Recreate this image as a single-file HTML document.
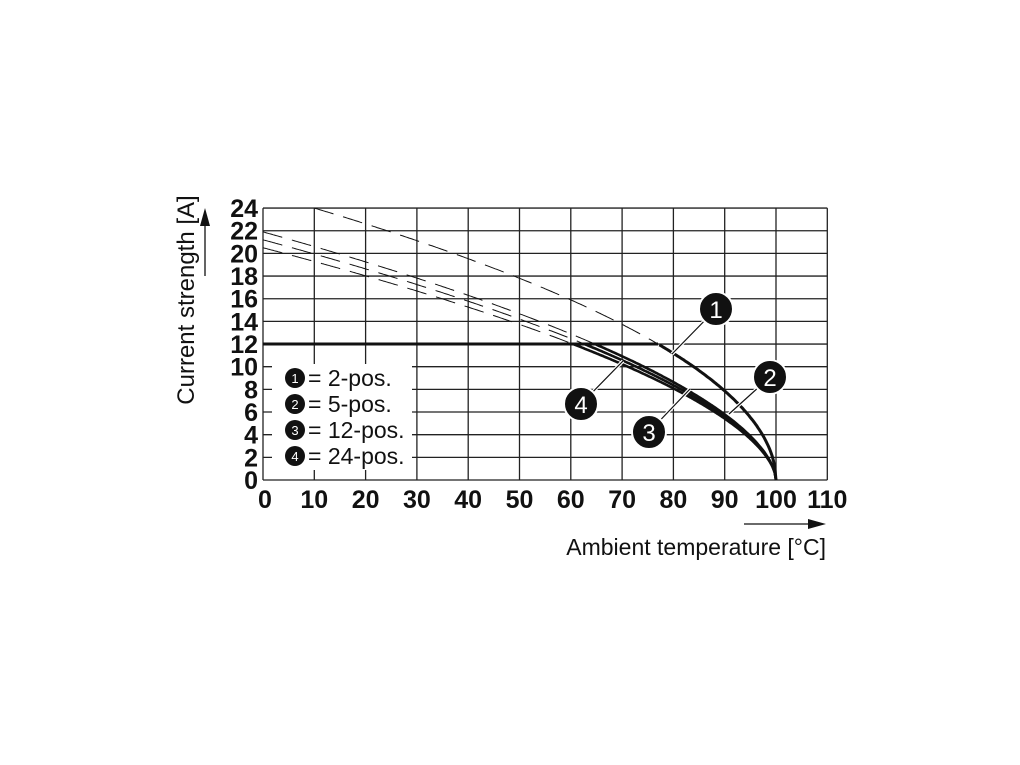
<!DOCTYPE html>
<html><head><meta charset="utf-8"><style>
html,body{margin:0;padding:0;background:#fff;}
svg{display:block;}
text{font-family:"Liberation Sans",Arial,sans-serif;}
</style></head><body>
<svg id="s" width="1020" height="765" xmlns="http://www.w3.org/2000/svg">
<g id="grid" stroke="#222" stroke-width="1.3"></g>
<g id="curves" fill="none"></g>
<rect x="272" y="364" width="140" height="106" fill="#fff"/>
<g font-size="23" fill="#111">
<circle cx="295" cy="378" r="10" fill="#111"/><text x="295" y="383" font-size="13" fill="#fff" text-anchor="middle">1</text><text x="308" y="386">= 2-pos.</text>
<circle cx="295" cy="404" r="10" fill="#111"/><text x="295" y="409" font-size="13" fill="#fff" text-anchor="middle">2</text><text x="308" y="412">= 5-pos.</text>
<circle cx="295" cy="430" r="10" fill="#111"/><text x="295" y="435" font-size="13" fill="#fff" text-anchor="middle">3</text><text x="308" y="438">= 12-pos.</text>
<circle cx="295" cy="456" r="10" fill="#111"/><text x="295" y="461" font-size="13" fill="#fff" text-anchor="middle">4</text><text x="308" y="464">= 24-pos.</text>
</g>
<g id="labels" font-weight="bold" font-size="25" fill="#111"></g>
<g stroke="#fff" stroke-width="3.5">
<line x1="716" y1="309" x2="672" y2="354"/><line x1="770" y1="377" x2="729" y2="414"/>
<line x1="649" y1="432" x2="690" y2="389"/><line x1="581" y1="404" x2="623" y2="361"/>
</g>
<g stroke="#111" stroke-width="1.2">
<line x1="716" y1="309" x2="672" y2="354"/><line x1="770" y1="377" x2="729" y2="414"/>
<line x1="649" y1="432" x2="690" y2="389"/><line x1="581" y1="404" x2="623" y2="361"/>
</g>
<g fill="#111" stroke="#fff" stroke-width="2">
<circle cx="716" cy="309" r="17"/><circle cx="770" cy="377" r="17"/><circle cx="649" cy="432" r="17"/><circle cx="581" cy="404" r="17"/>
</g>
<g fill="#fff" font-size="24" text-anchor="middle">
<text x="716" y="318">1</text><text x="770" y="386">2</text><text x="649" y="441">3</text><text x="581" y="413">4</text>
</g>
<text x="826" y="555" font-size="23" text-anchor="end" fill="#111">Ambient temperature [°C]</text>
<line x1="744" y1="524" x2="812" y2="524" stroke="#111" stroke-width="1.3"/>
<polygon points="826,524 808,519 808,529" fill="#111"/>
<text transform="translate(194,300) rotate(-90)" font-size="24" text-anchor="middle" fill="#111">Current strength [A]</text>
<line x1="205" y1="276" x2="205" y2="222" stroke="#111" stroke-width="1.3"/>
<polygon points="205,208 200,226 210,226" fill="#111"/>
</svg>
<script>
var NS="http://www.w3.org/2000/svg";
function px(t){return 263+5.13*t;}function py(i){return 480-11.33*i;}
var g=document.getElementById('grid'),L=document.getElementById('labels'),C=document.getElementById('curves');
function el(p,tag,a){var e=document.createElementNS(NS,tag);for(var k in a)e.setAttribute(k,a[k]);p.appendChild(e);return e;}
for(var t=0;t<=110;t+=10){el(g,'line',{x1:px(t),y1:py(0),x2:px(t),y2:py(24)});var tx=el(L,'text',{x:px(t)+(t==0?2:0),y:508,'text-anchor':'middle'});tx.textContent=t;}
for(var i=0;i<=24;i+=2){el(g,'line',{x1:px(0),y1:py(i),x2:px(110),y2:py(i)});var ty=el(L,'text',{x:258,y:py(i)+9,'text-anchor':'end'});ty.textContent=i;}
el(C,'line',{x1:px(0),y1:py(12),x2:px(77),y2:py(12),stroke:'#111','stroke-width':3});
function curve(k,p,t0,w){var d='',sol='';var first=true,fs=true;
for(var t=t0;t<=100;t+=0.25){var I=k*Math.pow(100-t,p);if(I>24.05)continue;
 if(I>=12){d+=(first?'M':'L')+px(t).toFixed(1)+' '+py(I).toFixed(1);first=false;}
 else{sol+=(fs?'M':'L')+px(t).toFixed(1)+' '+py(I).toFixed(1);fs=false;}}
el(C,'path',{d:d,stroke:'#111','stroke-width':1,'stroke-dasharray':'20 10'});
el(C,'path',{d:sol,stroke:'#111','stroke-width':w});}
curve(24/Math.pow(90,0.508),0.508,10,3);
[21.9,21.2,20.5].forEach(function(a){curve(a/Math.pow(100,0.578),0.578,0,2.6);});
</script>
</body></html>
